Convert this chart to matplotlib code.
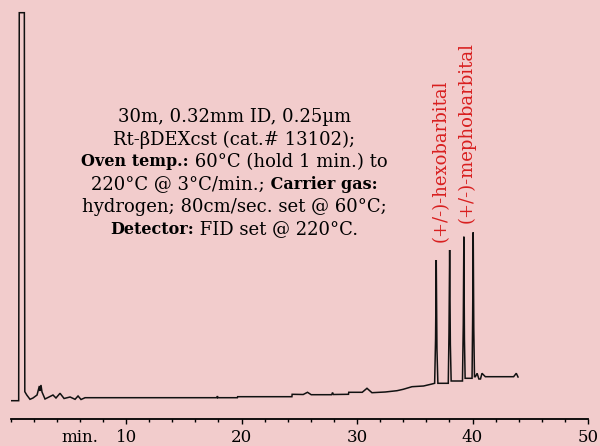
import matplotlib
matplotlib.use('Agg')
import matplotlib.pyplot as plt
from matplotlib.ticker import MultipleLocator

# chromatogram trace (time in min, detector response)
time = [0.10, 0.70, 0.75, 1.19, 1.23, 1.40, 1.68, 1.94, 2.29, 2.49, 2.55, 2.63, 2.72,
        2.98, 3.24, 3.67, 3.93, 4.28, 4.63, 5.15, 5.58, 5.84, 6.10, 6.45,
        17.88, 17.91, 17.94, 19.64, 19.66, 24.36, 24.38, 25.34, 25.71, 26.03,
        27.80, 27.88, 27.95, 29.26, 29.28, 30.45, 30.86, 31.29, 32.44, 33.46,
        34.00, 34.76, 35.76, 36.49, 36.72, 36.80, 36.86, 36.92, 37.00,
        37.90, 37.96, 38.02, 38.08, 38.15, 39.13, 39.20, 39.25, 39.30, 39.36,
        39.96, 40.01, 40.06, 40.11, 40.17, 40.25, 40.40, 40.55, 40.69, 40.82,
        41.11, 43.56, 43.79, 43.94]
signal = [18.3, 18.3, 406.3, 406.3, 27.3, 24, 19.7, 21, 24, 33, 28, 34, 27,
          20, 21.5, 24, 21, 25.7, 20.5, 22, 19.7, 23, 19.5, 21.3,
          21.3, 23, 21.3, 21.3, 22.3, 22.3, 24.7, 24.5, 26.7, 24.3,
          24.3, 26.5, 24.5, 24.7, 26.7, 26.7, 30.7, 26.3, 27, 28.3,
          29.7, 32.3, 33, 35, 35.7, 80, 159, 70, 35.7,
          35.7, 85, 169, 75, 38, 38, 95, 182.3, 80, 40.7,
          40.7, 100, 186.7, 90, 42.3, 42.3, 45.7, 40, 40, 45.7,
          42.3, 42.3, 45.7, 42]

tick_vals = [10, 20, 30, 40, 50]
tick_labels = ['10', '20', '30', '40', '50']

peak_names = ['(+/-)-hexobarbital', '(+/-)-mephobarbital']
peak_times = [37.21, 39.52]
peak_label_base = [177, 196]

# each line: list of (text, bold)
conditions = [
    [('30m, 0.32mm ID, 0.25µm', False)],
    [('Rt-βDEXcst (cat.# 13102);', False)],
    [('Oven temp.:', True), (' 60°C (hold 1 min.) to', False)],
    [('220°C @ 3°C/min.;', False), (' Carrier gas:', True)],
    [('hydrogen; 80cm/sec. set @ 60°C;', False)],
    [('Detector:', True), (' FID set @ 220°C.', False)],
]

bg = '#f2cccc'
plt.rcParams['font.family'] = 'DejaVu Serif'

fig = plt.figure(figsize=(6, 4.46), dpi=100, facecolor=bg)
ax = fig.add_axes([10.6 / 600, 27 / 446, 577.4 / 600, 419 / 446])
ax.set_facecolor(bg)

ax.plot(time, signal, color='#111111', lw=1.1, solid_joinstyle='miter')

ax.set_xlim(0, 50)
ax.set_ylim(0, 419)
for s in ['left', 'right', 'top']:
    ax.spines[s].set_visible(False)
ax.spines['bottom'].set_linewidth(1.3)
ax.set_yticks([])
ax.set_xticks(tick_vals)
ax.set_xticklabels(tick_labels, fontsize=12)
ax.xaxis.set_minor_locator(MultipleLocator(2))
ax.tick_params(axis='x', which='major', length=3.5, width=1, pad=4)
ax.tick_params(axis='x', which='minor', length=2.2, width=1)

ax.annotate('min.', xy=(6.0, 0), xycoords=('data', 'axes fraction'),
            xytext=(0, -7.5), textcoords='offset points',
            ha='center', va='top', fontsize=12)

# run conditions, pieces laid out side by side and centred per line
renderer = fig.canvas.get_renderer()
cx, cy = ax.transData.transform((19.36, 304))
for i, pieces in enumerate(conditions):
    texts = []
    for txt, bold in pieces:
        t = fig.text(0, 0, txt, fontsize=11.5 if bold else 13,
                     fontweight='bold' if bold else 'normal',
                     va='center_baseline', ha='left')
        texts.append(t)
    widths = [t.get_window_extent(renderer).width for t in texts]
    x = cx - sum(widths) / 2
    y = cy - i * 22.4
    for t, w in zip(texts, widths):
        t.set_position((x / fig.bbox.width, y / fig.bbox.height))
        x += w

for name, t, b in zip(peak_names, peak_times, peak_label_base):
    ax.text(t, b, name, rotation=90, ha='center', va='bottom',
            color='#d81e1e', fontsize=13)

fig.savefig('out.png', dpi=100, facecolor=bg)
